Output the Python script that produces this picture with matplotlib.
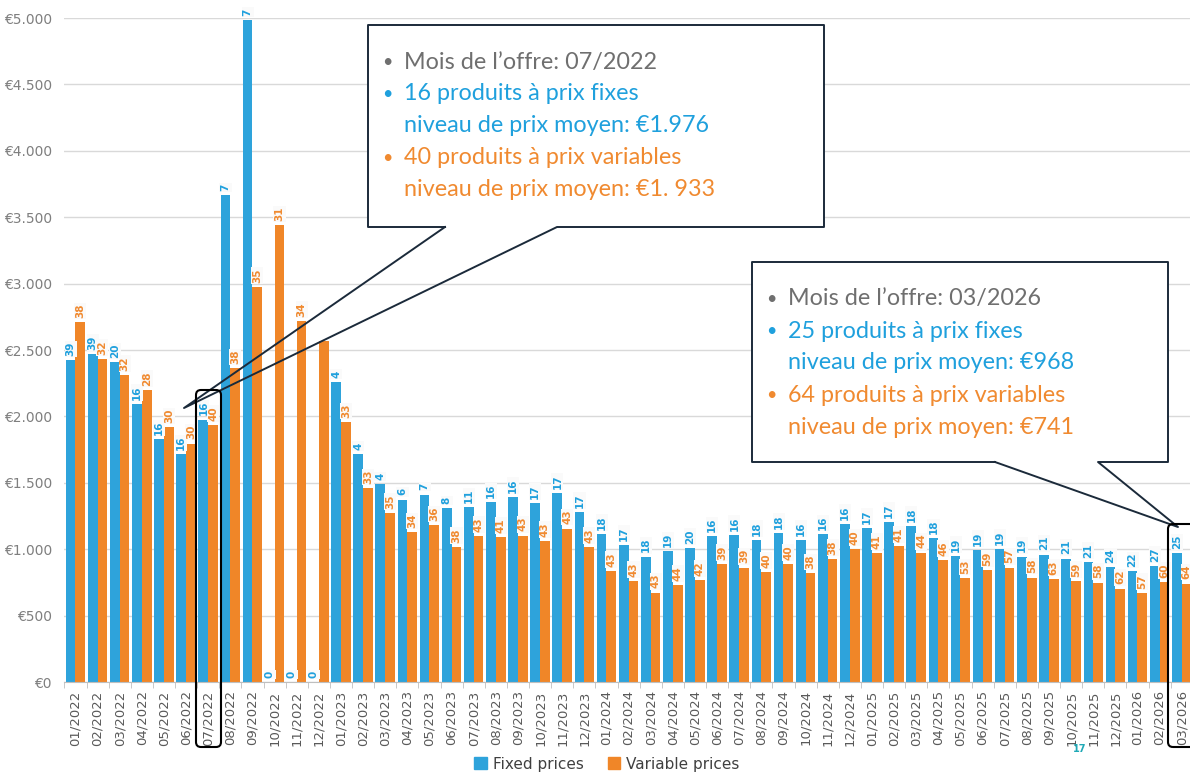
#!/usr/bin/env python3
# -*- coding: utf8 -*-
"""
    Average offer price per month, fixed vs variable price products,
    with the number of products on top of each bar.
"""

import matplotlib
matplotlib.use('Agg')
import matplotlib.pyplot as plt
from matplotlib.patches import Patch, Polygon, FancyBboxPatch
from matplotlib.lines import Line2D
from matplotlib.transforms import IdentityTransform
from matplotlib.ticker import FuncFormatter
import numpy as np

W, H = 1190, 774

MONTHS = ['%02d/%d' % (m, y) for y in range(2022, 2027) for m in range(1, 13)][:51]

FIXED_PRICE = [2422, 2470, 2407, 2093, 1827, 1714, 1976, 3665, 4985, 0, 0, 0,
               2259, 1719, 1488, 1373, 1411, 1308, 1315, 1353, 1393, 1348, 1421, 1280,
               1116, 1034, 944, 984, 1011, 1097, 1107, 1069, 1122, 1069, 1112, 1190,
               1160, 1203, 1175, 1082, 951, 996, 1004, 944, 959, 929, 906, 863,
               833, 873, 968]
VARIABLE_PRICE = [2708, 2432, 2312, 2201, 1918, 1795, 1933, 2362, 2974, 3439, 2716, 2565,
                  1955, 1458, 1275, 1127, 1180, 1019, 1099, 1094, 1102, 1064, 1155, 1019,
                  838, 761, 673, 730, 770, 891, 861, 828, 891, 818, 928, 1001,
                  971, 1026, 974, 919, 781, 843, 861, 786, 778, 761, 748, 703,
                  668, 755, 741]

FIXED_COUNT = [39, 39, 20, 16, 16, 16, 16, 7, 7, 0, 0, 0,
               4, 4, 4, 6, 7, 8, 11, 16, 16, 17, 17, 17,
               18, 17, 18, 19, 20, 16, 16, 18, 18, 16, 16, 16,
               17, 17, 18, 18, 19, 19, 19, 19, 21, 21, 21, 24,
               22, 27, 25]
# label of 12/2022 is hidden behind the callout in the original
VARIABLE_COUNT = [38, 32, 32, 28, 30, 30, 40, 38, 35, 31, 34, None,
                  33, 33, 35, 34, 36, 38, 43, 41, 43, 43, 43, 43,
                  43, 43, 43, 44, 42, 39, 39, 40, 40, 38, 38, 40,
                  41, 41, 44, 46, 53, 59, 57, 58, 63, 59, 58, 62,
                  57, 60, 64]

CALLOUT_1 = ['Mois de l\u2019offre: 07/2022',
             '16 produits à prix fixes', 'niveau de prix moyen: €1.976',
             '40 produits à prix variables', 'niveau de prix moyen: €1. 933']
CALLOUT_2 = ['Mois de l\u2019offre: 03/2026',
             '25 produits à prix fixes', 'niveau de prix moyen: €968',
             '64 produits à prix variables', 'niveau de prix moyen: €741']

BLUE = '#2EA3DB'
ORANGE = '#F08628'
BLUE_TXT = '#1FA0DD'
ORANGE_TXT = '#F08A30'
GREY_TXT = '#6F6F6F'
EDGE = '#1B2A3A'


def fig_px(x, y):
    return x / W, 1 - y / H


def draw_callout(fig, box, wedge, tip, lines):
    x0, y0, x1, y1 = box
    rect = Polygon([fig_px(x0, y0), fig_px(x1, y0), fig_px(x1, y1), fig_px(x0, y1)],
                   closed=True, transform=fig.transFigure, facecolor='white',
                   edgecolor='none', zorder=5)
    fig.patches.append(rect)
    outline = [(wedge[0], y1), (x0, y1), (x0, y0), (x1, y0), (x1, y1),
               (wedge[1], y1), tip, (wedge[0], y1)]
    xs = [p[0] / W for p in outline]
    ys = [1 - p[1] / H for p in outline]
    fig.lines.append(Line2D(xs, ys, transform=fig.transFigure, color=EDGE,
                            lw=1.4, zorder=6))

    colors = [GREY_TXT, BLUE_TXT, BLUE_TXT, ORANGE_TXT, ORANGE_TXT]
    bullets = [True, True, False, True, False]
    y = y0 + 37
    for text, color, bullet in zip(lines, colors, bullets):
        if bullet:
            fig.text(*fig_px(x0 + 14, y), '\u2022', color=color, fontsize=13,
                     family='Lato', va='center', zorder=7)
        fig.text(*fig_px(x0 + 36, y), text, color=color, fontsize=16.8,
                 family='Lato', va='center', zorder=7)
        y += 32


def draw_round_box(fig, x0, y0, x1, y1):
    box = FancyBboxPatch((x0, H - y1), x1 - x0, y1 - y0,
                         boxstyle='round,pad=0,rounding_size=5',
                         transform=IdentityTransform(), facecolor='none',
                         edgecolor='black', lw=1.5, zorder=8)
    fig.patches.append(box)


def plot_prices():
    fig = plt.figure(figsize=(W / 100, H / 100), dpi=100)
    ax = fig.add_axes([64.4 / W, 1 - 682 / H, (1192.8 - 64.4) / W, (682 - 18) / H])

    x = np.arange(len(MONTHS))
    width = 0.44
    ax.bar(x - width / 2, FIXED_PRICE, width, color=BLUE, zorder=2)
    ax.bar(x + width / 2, VARIABLE_PRICE, width, color=ORANGE, zorder=2)

    for i in range(len(MONTHS)):
        for shift, value, count, color in [
                (-width / 2, FIXED_PRICE[i], FIXED_COUNT[i], BLUE_TXT),
                (width / 2, VARIABLE_PRICE[i], VARIABLE_COUNT[i], ORANGE_TXT)]:
            if count is None:
                continue
            ax.annotate(str(count), (x[i] + shift, value), xytext=(0, 3),
                        textcoords='offset points', rotation=90, ha='center',
                        va='bottom', fontsize=7.5, fontweight='bold', color=color,
                        annotation_clip=False, zorder=3,
                        bbox=dict(boxstyle='square,pad=0.1', fc='#FAFAFA',
                                  ec='none'))

    ax.set_xlim(-0.5, len(MONTHS) - 0.5)
    ax.set_ylim(0, 5000)
    ax.set_yticks(np.arange(0, 5001, 500))
    ax.yaxis.set_major_formatter(FuncFormatter(
        lambda v, _: '€' + '{:,.0f}'.format(v).replace(',', '.')))
    ax.set_xticks(x)
    ax.set_xticklabels(MONTHS, rotation=90)
    ax.set_xticks(np.arange(-0.5, len(MONTHS), 1), minor=True)
    ax.tick_params(axis='x', which='major', length=0, pad=6, labelsize=9.5,
                   labelcolor='#595959')
    ax.tick_params(axis='x', which='minor', length=4, color='#BFBFBF')
    ax.tick_params(axis='y', length=0, pad=9, labelsize=10, labelcolor='#7F7F7F')
    ax.grid(axis='y', color='#D9D9D9', lw=1, zorder=0)
    for side in ['top', 'right', 'left']:
        ax.spines[side].set_visible(False)
    ax.spines['bottom'].set_color('#BFBFBF')

    handles = [Patch(color=BLUE, label='Fixed prices'),
               Patch(color=ORANGE, label='Variable prices')]
    fig.legend(handles=handles, loc='center', bbox_to_anchor=(607 / W, 1 - 764 / H),
               ncol=2, frameon=False, fontsize=11, handlelength=0.8,
               handleheight=0.8, handletextpad=0.4, columnspacing=1.6,
               labelcolor='#404040')

    fig.text(*fig_px(1080, 749), '17', color='#1FA9B6', fontsize=7,
             fontweight='bold', ha='center', va='center')

    draw_callout(fig, (368, 25, 824, 227), (445, 557), (184, 408), CALLOUT_1)
    draw_callout(fig, (752, 262, 1168, 462), (995, 1098), (1178, 527), CALLOUT_2)

    draw_round_box(fig, 196, 390, 221, 747)
    draw_round_box(fig, 1168, 524, 1196, 747)

    fig.savefig('out.png', dpi=100)


def main():
    plot_prices()


if __name__ == '__main__':
    main()
